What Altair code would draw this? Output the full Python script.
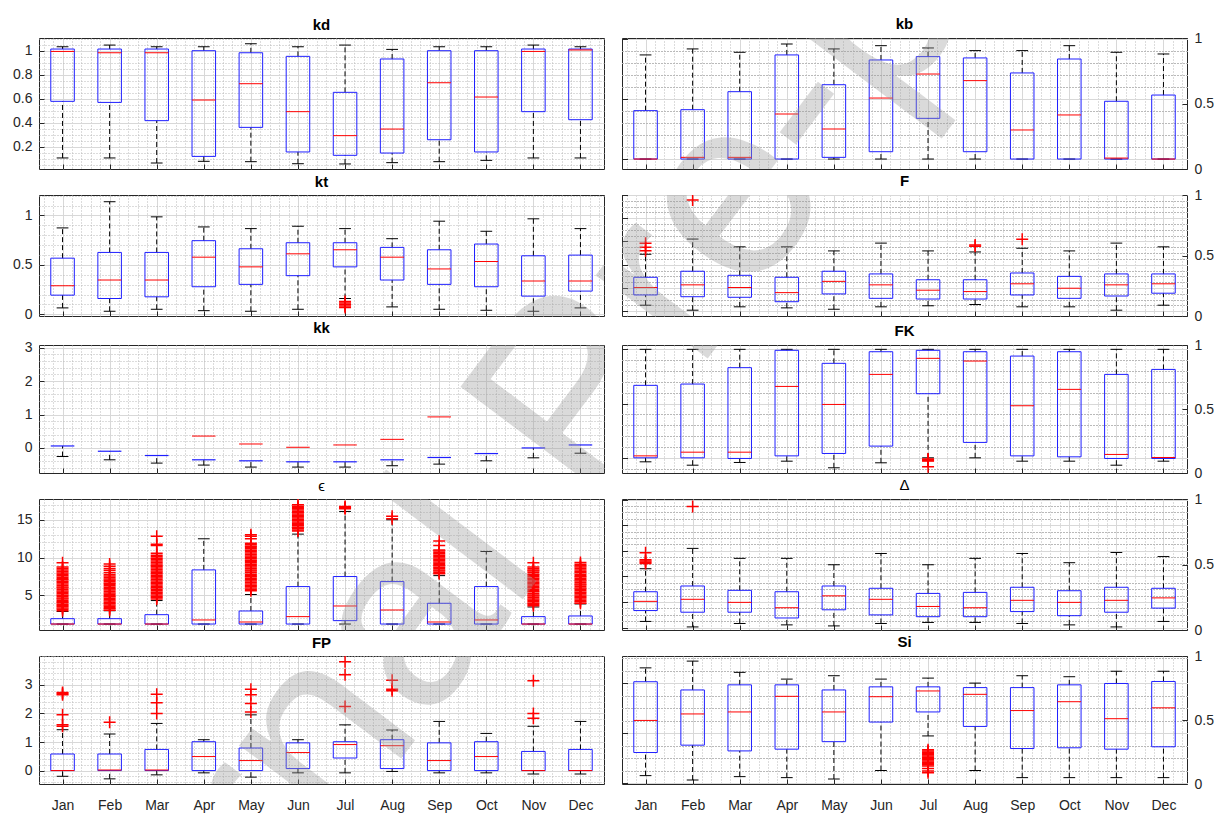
import math

import altair as alt
import pandas as pd

MONTHS = ["Jan", "Feb", "Mar", "Apr", "May", "Jun", "Jul", "Aug", "Sep", "Oct", "Nov", "Dec"]

# ---- kd ----
KD_LO = [0.106, 0.106, 0.064, 0.078, 0.075, 0.058, 0.056, 0.067, 0.075, 0.086, 0.106, 0.106]
KD_Q1 = [0.578, 0.569, 0.417, 0.119, 0.361, 0.156, 0.128, 0.147, 0.258, 0.156, 0.492, 0.425]
KD_MED = [0.994, 0.983, 0.983, 0.589, 0.725, 0.492, 0.292, 0.347, 0.733, 0.614, 0.994, 1.006]
KD_Q3 = [1.014, 1.014, 1.014, 1.000, 0.983, 0.953, 0.653, 0.931, 1.000, 1.000, 1.014, 1.014]
KD_HI = [1.033, 1.047, 1.033, 1.033, 1.058, 1.033, 1.047, 1.011, 1.033, 1.033, 1.047, 1.033]

# ---- kb ----
KB_LO = [0.0, 0.0, 0.0, 0.0, 0.0, 0.0, 0.0, 0.0, 0.0, 0.0, 0.0, 0.0]
KB_Q1 = [0.0, 0.0, 0.0, 0.0, 0.014, 0.061, 0.339, 0.061, 0.0, 0.0, 0.0, 0.0]
KB_MED = [0.0, 0.014, 0.014, 0.375, 0.25, 0.508, 0.708, 0.653, 0.242, 0.367, 0.008, 0.0]
KB_Q3 = [0.403, 0.411, 0.561, 0.867, 0.619, 0.825, 0.853, 0.842, 0.717, 0.833, 0.481, 0.533]
KB_HI = [0.867, 0.917, 0.889, 0.958, 0.917, 0.944, 0.925, 0.903, 0.903, 0.944, 0.889, 0.875]

# ---- kt ----
KT_LO = [0.065, 0.031, 0.051, 0.037, 0.031, 0.051, 0.16, 0.075, 0.051, 0.041, 0.031, 0.065]
KT_Q1 = [0.194, 0.16, 0.177, 0.279, 0.303, 0.391, 0.48, 0.347, 0.303, 0.279, 0.184, 0.235]
KT_MED = [0.289, 0.347, 0.347, 0.578, 0.48, 0.612, 0.653, 0.578, 0.459, 0.534, 0.337, 0.337]
KT_Q3 = [0.568, 0.626, 0.626, 0.745, 0.663, 0.724, 0.724, 0.677, 0.653, 0.711, 0.592, 0.599]
KT_HI = [0.874, 1.139, 0.986, 0.884, 0.867, 0.891, 0.867, 0.765, 0.942, 0.84, 0.966, 0.867]
KT_OUT = {7: [0.13, 0.115, 0.10, 0.085, 0.07]}

# ---- F ----
F_LO = [0.052, 0.009, 0.038, 0.029, 0.017, 0.038, 0.047, 0.058, 0.038, 0.038, 0.009, 0.052]
F_Q1 = [0.14, 0.125, 0.12, 0.082, 0.149, 0.111, 0.105, 0.105, 0.14, 0.111, 0.131, 0.155]
F_MED = [0.204, 0.227, 0.204, 0.16, 0.257, 0.227, 0.181, 0.169, 0.236, 0.198, 0.227, 0.236]
F_Q3 = [0.292, 0.344, 0.309, 0.292, 0.344, 0.321, 0.271, 0.271, 0.329, 0.3, 0.321, 0.321]
F_HI = [0.49, 0.621, 0.554, 0.554, 0.519, 0.586, 0.519, 0.51, 0.542, 0.519, 0.586, 0.554]
F_OUT = {1: [0.52, 0.55, 0.585], 2: [0.956], 8: [0.56, 0.57], 9: [0.62]}

# ---- kk ----
KK_LO = [-0.257, -0.355, -0.454, -0.513, -0.573, -0.573, -0.573, -0.533, -0.484, -0.385, -0.296, -0.158]
KK_Q1 = [0.059, -0.099, -0.227, -0.355, -0.385, -0.415, -0.415, -0.355, -0.286, -0.168, 0.0, 0.089]
KK_MED = [None, None, None, 0.355, 0.118, 0.02, 0.089, 0.257, 0.928, None, None, None]

# ---- FK ----
FK_LO = [-0.037, -0.068, -0.043, -0.031, -0.092, -0.046, 0.0, 0.0, -0.031, -0.031, -0.068, -0.031]
FK_Q1 = [0.0, 0.0, -0.006, 0.018, 0.04, 0.108, 0.591, 0.142, 0.018, 0.009, -0.006, -0.006]
FK_MED = [0.018, 0.052, 0.052, 0.658, 0.492, 0.769, 0.917, 0.892, 0.48, 0.631, 0.031, 0.003]
FK_Q3 = [0.668, 0.68, 0.831, 0.991, 0.871, 0.978, 0.991, 0.978, 0.938, 0.978, 0.769, 0.815]
FK_HI = [1.0, 1.0, 1.0, 1.0, 1.0, 1.0, 1.0, 1.0, 1.0, 1.0, 1.0, 1.0]
FK_OUT = {7: [-0.012, -0.018, -0.024, -0.03, -0.083]}

# ---- epsilon ----
E_LO = [1.19, 1.19, 1.19, 1.19, 1.19, 1.19, 1.19, 1.19, 1.19, 1.19, 1.19, 1.19]
E_Q1 = [1.19, 1.19, 1.19, 1.19, 1.19, 1.19, 1.64, 1.19, 1.19, 1.19, 1.19, 1.19]
E_MED = [1.19, 1.19, 1.19, 1.73, 1.46, 2.17, 3.58, 3.05, 1.46, 1.73, 1.19, 1.19]
E_Q3 = [1.9, 1.9, 2.43, 8.36, 2.92, 6.15, 7.48, 6.81, 3.94, 6.15, 2.17, 2.26]
E_HI = [2.85, 2.95, 4.3, 12.48, 5.1, 13.1, 16.1, 15.0, 7.6, 10.8, 3.45, 3.85]
E_OUT = {
    1: [2.95, 3.15, 3.3, 3.5, 3.65, 3.8, 4.0, 4.15, 4.3, 4.5, 4.65, 4.85, 5.0, 5.2, 5.4, 5.55,
        5.75, 5.95, 6.1, 6.3, 6.5, 6.7, 6.85, 7.05, 7.2, 7.4, 7.6, 7.8, 7.95, 8.15, 8.35, 8.55,
        8.75, 9.3],
    2: [3.0, 3.2, 3.35, 3.55, 3.7, 3.9, 4.05, 4.25, 4.4, 4.6, 4.8, 4.95, 5.15, 5.3, 5.5, 5.7,
        5.85, 6.05, 6.25, 6.45, 6.6, 6.8, 7.0, 7.15, 7.35, 7.55, 7.75, 8.0, 8.3, 8.55, 8.85, 9.15],
    3: [4.5, 4.7, 4.85, 5.05, 5.25, 5.4, 5.6, 5.8, 6.0, 6.15, 6.35, 6.55, 6.7, 6.9, 7.1, 7.3,
        7.45, 7.65, 7.85, 8.05, 8.2, 8.4, 8.6, 8.8, 8.95, 9.15, 9.35, 9.55, 9.75, 9.9, 10.1,
        10.3, 10.55, 11.6, 11.75, 12.8],
    5: [5.6, 5.75, 5.95, 6.15, 6.3, 6.5, 6.7, 6.9, 7.05, 7.25, 7.45, 7.6, 7.8, 8.0, 8.2, 8.35,
        8.55, 8.75, 8.9, 9.1, 9.3, 9.5, 9.65, 9.85, 10.05, 10.2, 10.4, 10.6, 10.8, 10.95, 11.15,
        11.35, 11.5, 11.7, 11.9, 12.5, 12.8, 13.0],
    6: [13.5, 13.65, 13.85, 14.0, 14.2, 14.35, 14.55, 14.7, 14.9, 15.05, 15.25, 15.4, 15.6,
        15.75, 15.95, 16.1, 16.3, 16.45, 16.6, 16.8, 17.0],
    7: [16.45, 16.55, 16.65, 16.75],
    8: [15.15, 15.45],
    9: [7.85, 8.0, 8.2, 8.35, 8.55, 8.7, 8.9, 9.05, 9.25, 9.4, 9.6, 9.75, 9.95, 10.1, 10.3,
        10.5, 10.65, 10.85, 11.0, 11.6, 12.2],
    11: [3.6, 3.8, 3.95, 4.15, 4.35, 4.5, 4.7, 4.9, 5.05, 5.25, 5.45, 5.6, 5.8, 6.0, 6.15, 6.35,
         6.55, 6.7, 6.9, 7.1, 7.25, 7.45, 7.65, 7.8, 8.0, 8.2, 8.35, 8.55, 8.75, 9.3],
    12: [3.95, 4.15, 4.3, 4.5, 4.7, 4.85, 5.05, 5.25, 5.4, 5.6, 5.8, 5.95, 6.15, 6.35, 6.5, 6.7,
         6.9, 7.05, 7.25, 7.45, 7.6, 7.8, 8.0, 8.15, 8.35, 8.55, 8.75, 8.9, 9.1, 9.35],
}

# ---- Delta ----
D_LO = [0.048, 0.005, 0.032, 0.021, 0.013, 0.032, 0.04, 0.04, 0.032, 0.021, 0.005, 0.048]
D_Q1 = [0.133, 0.12, 0.12, 0.075, 0.139, 0.099, 0.085, 0.085, 0.125, 0.093, 0.12, 0.152]
D_MED = [0.205, 0.221, 0.197, 0.155, 0.248, 0.221, 0.165, 0.155, 0.213, 0.197, 0.213, 0.232]
D_Q3 = [0.28, 0.325, 0.291, 0.28, 0.325, 0.307, 0.267, 0.275, 0.315, 0.288, 0.315, 0.307]
D_HI = [0.46, 0.619, 0.541, 0.541, 0.491, 0.579, 0.491, 0.541, 0.579, 0.507, 0.587, 0.555]
D_OUT = {1: [0.50, 0.51, 0.52, 0.53, 0.585], 2: [0.947]}

# ---- FP ----
FP_LO = [-0.2, -0.29, -0.15, -0.08, -0.23, -0.08, -0.08, -0.03, -0.08, -0.08, -0.12, -0.12]
FP_Q1 = [0.0, 0.0, 0.0, 0.0, 0.0, 0.07, 0.44, 0.07, 0.0, 0.0, 0.0, 0.0]
FP_MED = [0.0, 0.02, 0.02, 0.49, 0.35, 0.63, 0.91, 0.87, 0.35, 0.49, 0.0, 0.0]
FP_Q3 = [0.58, 0.58, 0.74, 1.01, 0.79, 0.97, 1.01, 1.08, 0.97, 1.01, 0.67, 0.74]
FP_HI = [1.43, 1.28, 1.65, 1.08, 1.95, 1.08, 1.6, 1.42, 1.72, 1.3, 1.55, 1.72]
FP_OUT = {1: [1.55, 1.6, 1.95, 2.65, 2.7, 2.73], 2: [1.69], 3: [2.0, 2.37, 2.67],
          5: [2.05, 2.35, 2.65, 2.85], 7: [2.24, 3.35, 3.81], 8: [2.79, 2.85, 3.16],
          11: [1.83, 2.0, 3.14]}

# ---- Si ----
SI_LO = [0.062, 0.027, 0.054, 0.046, 0.035, 0.103, 0.38, 0.103, 0.046, 0.046, 0.046, 0.046]
SI_Q1 = [0.247, 0.306, 0.26, 0.274, 0.334, 0.491, 0.572, 0.456, 0.279, 0.285, 0.274, 0.293]
SI_MED = [0.504, 0.556, 0.572, 0.697, 0.572, 0.694, 0.74, 0.713, 0.583, 0.654, 0.518, 0.605]
SI_Q3 = [0.814, 0.748, 0.789, 0.789, 0.748, 0.773, 0.773, 0.767, 0.767, 0.789, 0.8, 0.816]
SI_HI = [0.925, 0.979, 0.889, 0.835, 0.862, 0.835, 0.843, 0.803, 0.862, 0.854, 0.898, 0.898]
SI_OUT = {7: [0.27, 0.26, 0.25, 0.24, 0.23, 0.22, 0.21, 0.20, 0.19, 0.18, 0.17, 0.16, 0.15,
              0.14, 0.12, 0.10, 0.085]}

WATERMARK = "Journal Pre-proof"

# ---- styling and layout ----
FONT = "Liberation Sans"
INK = "#262626"
BLUE = "#1f1fff"
RED = "#ff0000"
TICK = 5
PANEL_W = 565
ROW_H = [131, 121, 128, 131, 128]
ROW_GAP = 28              # frame bottom to next frame top
TITLE_BLOCK = 20          # title band above the first frame
ROW_SPACING = -4          # concat spacing that yields ROW_GAP once titles and labels are added
RIGHT_TITLE_DY = 6        # right-hand titles sit above the "1" label otherwise
PAD_LEFT, PAD_TOP = 3, 16
LEFT_EXTENT = 40
COL_GAP = 16
PLUS = "M-1,0L1,0M0,-1L0,1"

# frame origins on the page, used to keep the watermark continuous across panels
FRAME_X = [PAD_LEFT + LEFT_EXTENT - TICK, PAD_LEFT + LEFT_EXTENT - TICK + PANEL_W + COL_GAP]
FRAME_Y = [PAD_TOP + TITLE_BLOCK]
for h in ROW_H[:-1]:
    FRAME_Y.append(FRAME_Y[-1] + h + ROW_GAP)
WM_CENTER = (575, 400)
WM_ANGLE = 307
WM_SIZE = 260


def grid_values(lo, hi, step):
    k0 = int(math.ceil(lo / step - 1e-9))
    k1 = int(math.floor(hi / step + 1e-9))
    return [round(k * step, 6) for k in range(k0, k1 + 1)]


def js_list(vals):
    return "[" + ",".join(repr(float(v)) for v in vals) + "]"


def fine_axis(majors, minor_step, domain, orient, labels, label_expr=None, pad=7,
              min_extent=None):
    """Axis with solid major grid, dotted minor grid and inward ticks."""
    vals = sorted(set(grid_values(domain[0], domain[1], minor_step)) | set(majors))
    test = f"indexof({js_list(majors)}, datum.value) >= 0"
    kw = dict(
        orient=orient,
        values=vals,
        offset=-TICK,
        tickSize=TICK,
        tickColor=INK,
        tickOpacity={"condition": {"test": test, "value": 1}, "value": 0},
        grid=True,
        gridColor={"condition": {"test": test, "value": "#d8d8d8"}, "value": "#b8b8b8"},
        gridDash={"condition": {"test": test, "value": []}, "value": [1, 2]},
        gridWidth=1,
        domain=False,
        labels=labels,
        format="~g",
        labelFont=FONT,
        labelFontSize=14,
        labelColor=INK,
        labelPadding=pad,
    )
    if min_extent is not None:
        kw["minExtent"] = min_extent
    if labels:
        kw["labelExpr"] = label_expr or f"{test} ? datum.label : ''"
    return alt.Axis(**kw)


def x_axis(show_labels):
    months_js = "[" + ",".join(f'"{m}"' for m in MONTHS) + "]"
    test = f"indexof({js_list(range(1, 13))}, datum.value) >= 0"
    expr = f"{test} ? {months_js}[round(datum.value) - 1] : ''"
    return fine_axis(list(range(1, 13)), 0.2, [0.5, 12.5], "bottom", show_labels,
                     label_expr=expr, pad=14)


def outlier_frame(outliers):
    rows = [(m, v) for m, vals in outliers.items() for v in vals]
    return pd.DataFrame(rows, columns=["m", "v"])


def watermark_layer(row, col):
    # the same diagonal text in every panel, clipped to that panel's frame
    x = WM_CENTER[0] - FRAME_X[col]
    y = WM_CENTER[1] - FRAME_Y[row]
    return alt.Chart(pd.DataFrame({"t": [WATERMARK]})).mark_text(
        font=FONT, fontSize=WM_SIZE, angle=WM_ANGLE, align="center", baseline="middle",
        color="#9a9a9a", opacity=0.36, clip=True,
    ).encode(text="t:N", x=alt.value(x), y=alt.value(y))


def panel(title, stats, outliers, domain, majors, minor_step, row, col,
          weight="bold", kk_style=False):
    lo, q1, med, q3, hi = stats
    side = "left" if col == 0 else "right"
    bottom = row == len(ROW_H) - 1
    df = pd.DataFrame({"m": list(range(1, 13)), "lo": lo, "q1": q1, "med": med,
                       "q3": q3, "hi": hi})
    xs = alt.Scale(domain=[0.5, 12.5], nice=False, zero=False)
    ys = alt.Scale(domain=domain, nice=False, zero=False)
    xax = x_axis(bottom)
    yax = fine_axis(majors, minor_step, domain, "left", side == "left",
                    min_extent=LEFT_EXTENT if side == "left" else None)

    def X(f):
        return alt.X(f, type="quantitative", scale=xs, axis=xax, title=None)

    def Y(f):
        return alt.Y(f, type="quantitative", scale=ys, axis=yax, title=None)

    base = alt.Chart(df).transform_calculate(
        xl="datum.m - 0.25", xr="datum.m + 0.25",
        cl="datum.m - 0.125", cr="datum.m + 0.125",
    )
    dash = dict(color="black", strokeWidth=1, strokeDash=[5, 3], clip=True)
    solid = dict(color="black", strokeWidth=1, clip=True)

    layers = [
        base.mark_rule(**dash).encode(x=X("m"), y=Y("lo"), y2=alt.Y2("q1")),
        base.mark_rule(**solid).encode(x=X("cl"), x2=alt.X2("cr"), y=Y("lo")),
    ]
    if kk_style:
        layers += [
            base.mark_rule(color=BLUE, strokeWidth=1.2, clip=True).encode(
                x=X("xl"), x2=alt.X2("xr"), y=Y("q1")),
            base.transform_filter("isValid(datum.med)").mark_rule(
                color=RED, strokeWidth=1, clip=True).encode(
                x=X("xl"), x2=alt.X2("xr"), y=Y("med")),
        ]
    else:
        layers = [
            base.mark_rule(**dash).encode(x=X("m"), y=Y("q3"), y2=alt.Y2("hi")),
            base.mark_rule(**solid).encode(x=X("cl"), x2=alt.X2("cr"), y=Y("hi")),
        ] + layers + [
            base.mark_rect(filled=False, color=BLUE, strokeWidth=1, clip=True).encode(
                x=X("xl"), x2=alt.X2("xr"), y=Y("q1"), y2=alt.Y2("q3")),
            base.mark_rule(color=RED, strokeWidth=1, clip=True).encode(
                x=X("xl"), x2=alt.X2("xr"), y=Y("med")),
        ]
    if outliers:
        layers.append(
            alt.Chart(outlier_frame(outliers)).mark_point(
                shape=PLUS, size=144, filled=False, color=RED, strokeWidth=1.5,
                opacity=1, clip=True).encode(x=X("m"), y=Y("v"))
        )
    layers.append(watermark_layer(row, col))

    ttl = alt.TitleParams(title, font=FONT, fontSize=15, fontWeight=weight, color="black",
                          offset=5, anchor="middle", frame="group",
                          dy=RIGHT_TITLE_DY if side == "right" else 0)
    if side == "right":
        rax = alt.Axis(orient="right", values=[0, 0.5, 1], format="~g", offset=-TICK,
                       tickSize=TICK, tickColor=INK, grid=False, domain=False,
                       labelFont=FONT, labelFontSize=14, labelColor=INK, labelPadding=7)
        layers.append(
            alt.Chart(pd.DataFrame({"r": [0.0, 1.0]})).mark_point(opacity=0).encode(
                y=alt.Y("r", type="quantitative",
                        scale=alt.Scale(domain=[0, 1], nice=False, zero=False),
                        axis=rax, title=None))
        )
        return alt.layer(*layers).resolve_scale(y="independent").properties(
            width=PANEL_W, height=ROW_H[row], title=ttl)
    return alt.layer(*layers).properties(width=PANEL_W, height=ROW_H[row], title=ttl)


panels = [
    panel("kd", (KD_LO, KD_Q1, KD_MED, KD_Q3, KD_HI), None, [0.014, 1.106],
          [0.2, 0.4, 0.6, 0.8, 1.0], 0.05, 0, 0),
    panel("kb", (KB_LO, KB_Q1, KB_MED, KB_Q3, KB_HI), None, [-0.083, 1.008],
          [0.0, 0.5, 1.0], 0.1, 0, 1),
    panel("kt", (KT_LO, KT_Q1, KT_MED, KT_Q3, KT_HI), KT_OUT, [-0.017, 1.207],
          [0.0, 0.5, 1.0], 0.1, 1, 0),
    panel("F", (F_LO, F_Q1, F_MED, F_Q3, F_HI), F_OUT, [-0.041, 1.0],
          [0.0, 0.2, 0.4, 0.6, 0.8, 1.0], 0.05, 1, 1),
    panel("kk", (KK_LO, KK_Q1, KK_MED, KK_Q1, KK_Q1), None, [-0.75, 3.08],
          [0.0, 1.0, 2.0, 3.0], 0.2, 2, 0, kk_style=True),
    panel("FK", (FK_LO, FK_Q1, FK_MED, FK_Q3, FK_HI), FK_OUT, [-0.14, 1.04],
          [0.0, 0.5, 1.0], 0.1, 2, 1),
    panel("ϵ", (E_LO, E_Q1, E_MED, E_Q3, E_HI), E_OUT, [0.4, 17.75],
          [5.0, 10.0, 15.0], 1.0, 3, 0, weight="normal"),
    panel("Δ", (D_LO, D_Q1, D_MED, D_Q3, D_HI), D_OUT, [-0.019, 1.005],
          [0.0, 0.2, 0.4, 0.6, 0.8, 1.0], 0.05, 3, 1, weight="normal"),
    panel("FP", (FP_LO, FP_Q1, FP_MED, FP_Q3, FP_HI), FP_OUT, [-0.47, 4.01],
          [0.0, 1.0, 2.0, 3.0], 0.2, 4, 0),
    panel("Si", (SI_LO, SI_Q1, SI_MED, SI_Q3, SI_HI), SI_OUT, [-0.005, 1.02],
          [0.0, 0.4, 0.8], 0.1, 4, 1),
]

chart = (
    alt.concat(
        *panels, columns=2, align="each",
        spacing={"row": ROW_SPACING, "column": COL_GAP},
    )
    .properties(padding={"left": PAD_LEFT, "top": PAD_TOP, "right": 0, "bottom": 0})
    .configure(font=FONT)
    .configure_view(stroke=INK, strokeWidth=1)
)

chart.save("out.html", embed_options={"renderer": "svg", "actions": False})
